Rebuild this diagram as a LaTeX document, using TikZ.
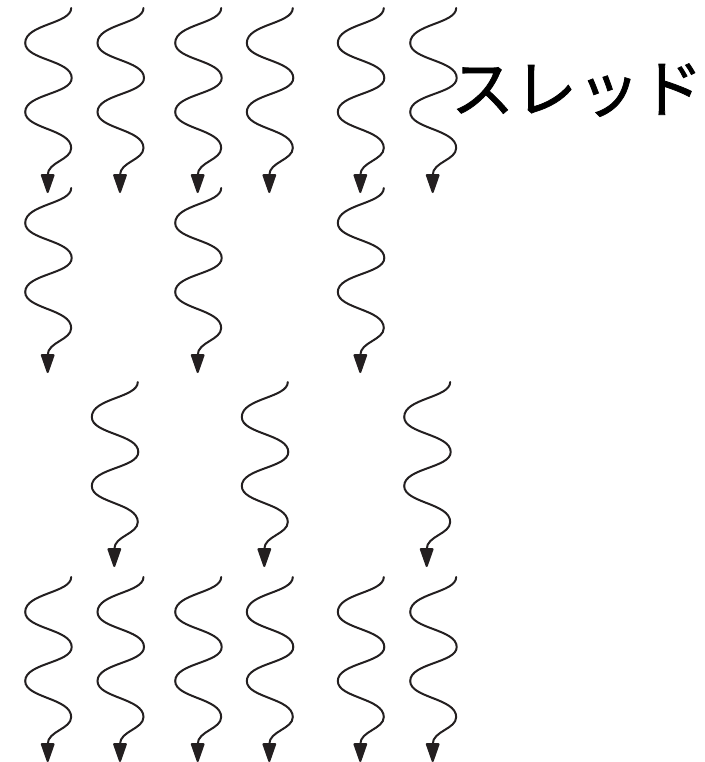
\documentclass[tikz,border=0pt]{standalone}
\usepackage{fontspec}
\newfontfamily\jpfont[FakeBold=1.2]{Noto Sans CJK JP}
\usetikzlibrary{arrows.meta}
\definecolor{ink}{HTML}{231F20}
\tikzset{
  wavy/.style={draw=ink, line width=2pt, line cap=round,
    -{Triangle[length=21pt,width=14pt,round=false]}},
}
\begin{document}
\begin{tikzpicture}[x=1pt,y=-1pt]
\useasboundingbox (0,0) rectangle (704,762);
\foreach \cx/\yy in {47.7/8,120/8,197.7/8,269.3/8,360.3/8,432.7/8,
                     47.7/188,197.7/188,360.3/188,
                     114.3/382,264.3/382,426.7/382,
                     47.7/577,120/577,197.7/577,269.3/577,360.3/577,432.7/577}{
  \draw[wavy] (\cx+23.5,\yy)
    .. controls (\cx+23.5,\yy+16) and (\cx-22.5,\yy+16) .. (\cx-22.5,\yy+35)
    .. controls (\cx-22.5,\yy+52) and (\cx+24,\yy+52) .. (\cx+24,\yy+70)
    .. controls (\cx+24,\yy+86) and (\cx-22.5,\yy+86) .. (\cx-22.5,\yy+104)
    .. controls (\cx-22.5,\yy+121) and (\cx+23.5,\yy+121) .. (\cx+23.5,\yy+140)
    .. controls (\cx+23.5,\yy+152) and (\cx,\yy+154) .. (\cx,\yy+167)
    -- (\cx,\yy+185);
}
\node[anchor=base, inner sep=0pt, text=black, font=\jpfont\fontsize{63pt}{63pt}\selectfont] (label) at (577,112) {スレッド};
\end{tikzpicture}
\end{document}
